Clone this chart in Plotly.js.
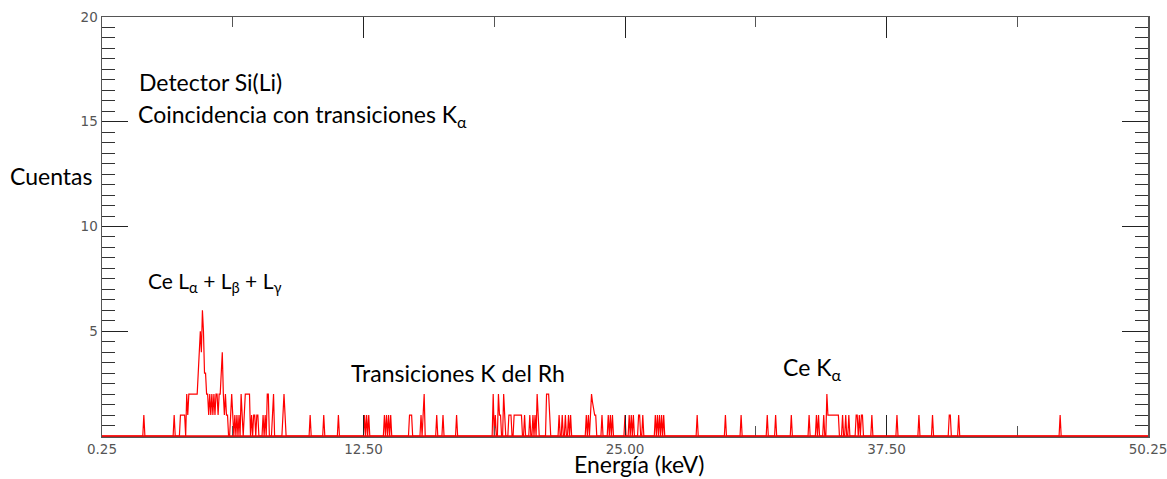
<!DOCTYPE html>
<html>
<head>
<meta charset="utf-8">
<script src="https://cdn.plot.ly/plotly-3.0.1.min.js"></script>
<style>html,body{margin:0;padding:0;background:#fff;}#chart{width:1167px;height:479px;}</style>
</head>
<body>
<div id="chart"></div>
<script>
// Non-zero channels of the coincidence spectrum (energy in keV, counts)
const peakEnergies = [
  2.25, 3.70,
  4.00, 4.05, 4.10, 4.15, 4.20, 4.30, 4.35, 4.40,
  4.45, 4.50, 4.55, 4.60, 4.65, 4.70, 4.75, 4.80,
  4.85, 4.90, 4.95, 5.00, 5.05, 5.10, 5.15, 5.20,
  5.25, 5.30, 5.35, 5.40, 5.45, 5.50, 5.55, 5.60, 5.65, 5.70, 5.75, 5.80, 5.85, 5.90, 5.95, 6.00, 6.05, 6.10, 6.15, 6.20, 6.25,
  6.40, 6.45, 6.50, 6.60, 6.70, 6.80, 6.90, 6.95,
  7.05, 7.10, 7.15, 7.20, 7.25, 7.30,
  7.40, 7.50, 7.55, 7.65, 7.70,
  7.95, 8.05, 8.15, 8.20, 8.40, 8.45,
  8.90, 8.95, 9.00, 10.20, 10.85, 11.55
];
const peakCounts = [
  1, 1,
  1, 1, 1, 1, 1, 2, 1, 2,
  2, 2, 2, 2, 2, 2, 2, 2,
  3, 4, 5, 4, 6, 5, 3, 3,
  2, 2, 1, 2, 1, 2, 1, 2, 1, 2, 2, 1, 2, 2, 3, 4, 2, 1, 2, 1, 1,
  1, 2, 1, 1, 1, 1, 2, 1,
  1, 2, 2, 2, 2, 2,
  1, 1, 1, 1, 1,
  1, 1, 2, 2, 1, 2,
  1, 2, 1, 1, 1, 1
];
const highEnergies = [
  12.80, 12.90, 13.00, 13.75, 13.85, 13.95, 14.05,
  14.95, 15.00, 15.05, 15.50, 15.60, 15.65, 16.25, 16.55, 17.20,
  18.95, 19.05, 19.20, 19.25, 19.30, 19.45, 19.50,
  19.70, 19.75, 19.80, 19.95, 20.00, 20.05, 20.10, 20.15, 20.20, 20.25, 20.30, 20.45,
  20.70, 20.85, 20.95, 21.05, 21.10, 21.50, 21.55, 21.60, 21.65,
  22.10, 22.25, 22.40, 22.55, 22.65,
  23.40, 23.50, 23.60, 23.65, 23.70, 23.75, 23.80, 23.85,
  24.15, 24.45, 24.55, 24.65,
  25.25, 25.45, 25.55, 25.65, 25.90, 25.95, 26.10,
  26.70, 26.80, 26.90, 27.00, 27.10,
  28.70, 30.05, 30.80, 32.05, 32.45, 33.20, 34.05, 34.40, 34.50, 34.75,
  34.90, 34.95, 35.00, 35.05, 35.10, 35.15, 35.20, 35.25, 35.30, 35.35, 35.40, 35.45,
  35.65, 35.80, 35.95, 36.30, 36.35, 36.45, 36.55, 36.60, 37.05,
  38.25, 39.30, 39.95, 40.75, 40.80, 41.20, 46.05
];
const highCounts = [
  1, 1, 1, 1, 1, 1, 1,
  1, 1, 1, 1, 1, 2, 1, 1, 1,
  2, 1, 2, 1, 1, 2, 1,
  1, 1, 1, 1, 1, 1, 1, 1, 1, 1, 1, 1,
  1, 1, 1, 2, 1, 2, 2, 2, 1,
  1, 1, 1, 1, 1,
  1, 1, 1, 2, 1.6, 1.3, 1, 1,
  1, 1, 1, 1,
  1, 1, 1, 1, 1, 1, 1,
  1, 1, 1, 1, 1,
  1, 1, 1, 1, 1, 1, 1, 1, 1, 1,
  2, 1, 1, 1, 1, 1, 1, 1, 1, 1, 1, 1,
  1, 1, 1, 1, 1, 1, 1, 1, 1,
  1, 1, 1, 1, 1, 1, 1
];
const xTickVals = [0.25, 12.75, 25.25, 37.75, 50.25];
const xTickText = ["0.25", "12.50", "25.00", "37.50", "50.25"];
const xMinorVals = [6.5, 19.0, 31.5, 44.0];
const yTickVals = [5, 10, 15, 20];
const xRange = [0.25, 50.25];
const channelWidth = 0.05;

// Build the full channel table (empty channels = 0 counts)
const nCh = Math.round((xRange[1] - xRange[0]) / channelWidth) + 1;
const chX = [], chY = [];
for (let k = 0; k < nCh; k++) { chX.push(+(xRange[0] + k * channelWidth).toFixed(3)); chY.push(0); }
function addCounts(es, cs) {
  es.forEach((e, i) => { const k = Math.round((e - xRange[0]) / channelWidth); chY[k] += cs[i]; });
}
addCounts(peakEnergies, peakCounts);
addCounts(highEnergies, highCounts);

const fam = "Lato, 'Open Sans', sans-serif";
const txtFont = {family: fam, size: 23, color: "#000"};
const tickFont = {family: "'DejaVu Sans', Verdana, sans-serif", size: 13.5, color: "#555"};

const data = [{
  type: "scatter", mode: "lines", x: chX, y: chY,
  line: {color: "#ff0000", width: 1.2, shape: "linear"},
  hoverinfo: "skip"
}];

const layout = {
  width: 1167, height: 479,
  margin: {l: 102, r: 19, t: 17, b: 43},
  paper_bgcolor: "#fff", plot_bgcolor: "#fff",
  showlegend: false,
  xaxis: {
    range: xRange, tickmode: "array", tickvals: xTickVals, ticktext: xTickText,
    ticks: "inside", ticklen: 21, tickwidth: 1, tickcolor: "#222",
    showline: true, linecolor: "#555", linewidth: 1.5, mirror: "allticks",
    showgrid: false, zeroline: false, tickfont: tickFont, ticklabeloverflow: "allow",
    minor: {tickmode: "array", tickvals: xMinorVals, ticks: "inside", ticklen: 10, tickwidth: 1, tickcolor: "#555", showgrid: false}
  },
  yaxis: {
    range: [0, 20], tickmode: "array", tickvals: yTickVals,
    ticks: "inside", ticklen: 26, tickwidth: 1, tickcolor: "#222",
    showline: true, linecolor: "#555", linewidth: 1.5, mirror: "allticks",
    showgrid: false, zeroline: false, tickfont: tickFont,
    minor: {dtick: 0.5, tick0: 0, ticks: "inside", ticklen: 13, tickwidth: 1, tickcolor: "#333", showgrid: false}
  },
  shapes: [{type: "line", xref: "paper", yref: "paper", x0: 0, x1: 1, y0: 0, y1: 0, line: {color: "#ff0000", width: 1.5}, layer: "above"}],
  annotations: [
    {text: "Detector Si(Li)", xref: "paper", yref: "paper", x: 0.0334, y: 0.845, xanchor: "left", yanchor: "middle", showarrow: false, font: txtFont},
    {text: "Coincidencia con transiciones K<sub>α</sub>", xref: "paper", yref: "paper", x: 0.0325, y: 0.766, xanchor: "left", yanchor: "middle", showarrow: false, font: txtFont},
    {text: "Ce L<sub>α</sub> + L<sub>β</sub> + L<sub>γ</sub>", xref: "paper", yref: "paper", x: 0.042, y: 0.3675, xanchor: "left", yanchor: "middle", showarrow: false, font: {family: fam, size: 21, color: "#000"}},
    {text: "Transiciones K del Rh", xref: "paper", yref: "paper", x: 0.236, y: 0.150, xanchor: "left", yanchor: "middle", showarrow: false, font: txtFont},
    {text: "Ce K<sub>α</sub>", xref: "paper", yref: "paper", x: 0.649, y: 0.160, xanchor: "left", yanchor: "middle", showarrow: false, font: txtFont},
    {text: "Cuentas", xref: "paper", yref: "paper", x: -0.0895, y: 0.6205, xanchor: "left", yanchor: "middle", showarrow: false, font: txtFont},
    {text: "Energía (keV)", xref: "paper", yref: "paper", x: 0.513, y: -0.1026, xanchor: "center", yanchor: "bottom", borderpad: 0, showarrow: false, font: {family: fam, size: 23, color: "#000"}}
  ]
};

Plotly.newPlot("chart", data, layout, {displayModeBar: false, staticPlot: true});
</script>
</body>
</html>
